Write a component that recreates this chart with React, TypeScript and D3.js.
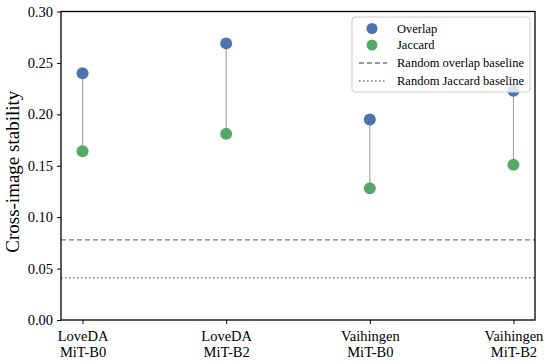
import React, { useEffect, useRef } from 'react'
import * as d3 from 'd3'

const categories = ['LoveDA\nMiT-B0', 'LoveDA\nMiT-B2', 'Vaihingen\nMiT-B0', 'Vaihingen\nMiT-B2']
const overlap = [0.240, 0.269, 0.195, 0.223]
const jaccard = [0.164, 0.181, 0.128, 0.151]
const overlapBaseline = 0.078
const jaccardBaseline = 0.041
const yTicks = [0, 0.05, 0.1, 0.15, 0.2, 0.25, 0.3]

const App = () => {
    const svgRef = useRef<SVGSVGElement>(null)

    useEffect(() => {
        const svg = d3.select(svgRef.current)
        svg.selectAll('*').remove()
        const left = 61, right = 535, top = 11.5, bottom = 320
        const font = '"Liberation Serif", "Times New Roman", serif'

        const x = d3.scalePoint().domain(categories).range([left, right]).padding(0.15)
        const y = d3.scaleLinear().domain([0, 0.3]).range([bottom, top])

        // baselines
        svg.append('line')
            .attr('x1', left).attr('x2', right)
            .attr('y1', y(overlapBaseline)).attr('y2', y(overlapBaseline))
            .attr('stroke', '#777').attr('stroke-width', 1.3).attr('stroke-dasharray', '5,3')
        svg.append('line')
            .attr('x1', left).attr('x2', right)
            .attr('y1', y(jaccardBaseline)).attr('y2', y(jaccardBaseline))
            .attr('stroke', '#777').attr('stroke-width', 1.5).attr('stroke-dasharray', '1.5,2.5')

        // connectors
        svg.selectAll('line.conn')
            .data(categories)
            .enter()
            .append('line')
            .attr('class', 'conn')
            .attr('x1', d => x(d)!).attr('x2', d => x(d)!)
            .attr('y1', (d, i) => y(overlap[i])).attr('y2', (d, i) => y(jaccard[i]))
            .attr('stroke', '#aaa').attr('stroke-width', 1.2)

        svg.selectAll('circle.ov')
            .data(overlap)
            .enter()
            .append('circle')
            .attr('cx', (d, i) => x(categories[i])!)
            .attr('cy', d => y(d))
            .attr('r', 6)
            .attr('fill', '#4C72B0')
        svg.selectAll('circle.ja')
            .data(jaccard)
            .enter()
            .append('circle')
            .attr('cx', (d, i) => x(categories[i])!)
            .attr('cy', d => y(d))
            .attr('r', 6)
            .attr('fill', '#55A868')

        // axes
        const yAxis = d3.axisLeft(y).tickValues(yTicks).tickFormat(d3.format('.2f')).tickSize(4).tickPadding(4)
        const gy = svg.append('g').attr('transform', `translate(${left},0)`).call(yAxis)
        gy.select('.domain').remove()
        gy.selectAll('text').attr('font-family', font).attr('font-size', 14.5).attr('fill', '#000')
        gy.selectAll('line').attr('stroke', '#000').attr('stroke-width', 1)

        const xAxis = d3.axisBottom(x).tickSize(4).tickFormat(() => '')
        const gx = svg.append('g').attr('transform', `translate(0,${bottom})`).call(xAxis)
        gx.select('.domain').remove()
        gx.selectAll('line').attr('stroke', '#000')
        gx.selectAll('.tick').each(function (d) {
            const lines = String(d).split('\n')
            const t = d3.select(this).append('text')
                .attr('font-family', font).attr('font-size', 14.5).attr('fill', '#000')
                .attr('text-anchor', 'middle')
            lines.forEach((l, i) => {
                t.append('tspan').attr('x', 0).attr('y', 21 + i * 16).text(l)
            })
        })

        // frame
        svg.append('rect')
            .attr('x', left).attr('y', top).attr('width', right - left).attr('height', bottom - top)
            .attr('fill', 'none').attr('stroke', '#000').attr('stroke-width', 1.3)

        svg.append('text')
            .attr('transform', `translate(19,${(top + bottom) / 2 + 6}) rotate(-90)`)
            .attr('text-anchor', 'middle')
            .attr('font-family', font).attr('font-size', 19)
            .text('Cross-image stability')

        // legend
        const lg = svg.append('g')
        lg.append('rect')
            .attr('x', 352).attr('y', 17).attr('width', 178).attr('height', 75).attr('rx', 3)
            .attr('fill', 'rgba(255,255,255,0.8)').attr('stroke', '#ccc').attr('stroke-width', 1)
        const rows = [28.5, 45, 63, 81]
        const labels = ['Overlap', 'Jaccard', 'Random overlap baseline', 'Random Jaccard baseline']
        lg.append('circle').attr('cx', 372).attr('cy', rows[0]).attr('r', 5.5).attr('fill', '#4C72B0')
        lg.append('circle').attr('cx', 372).attr('cy', rows[1]).attr('r', 5.5).attr('fill', '#55A868')
        lg.append('line').attr('x1', 359).attr('x2', 387).attr('y1', rows[2]).attr('y2', rows[2])
            .attr('stroke', '#777').attr('stroke-width', 1.3).attr('stroke-dasharray', '5,3')
        lg.append('line').attr('x1', 359).attr('x2', 387).attr('y1', rows[3]).attr('y2', rows[3])
            .attr('stroke', '#777').attr('stroke-width', 1.5).attr('stroke-dasharray', '1.5,2.5')
        labels.forEach((l, i) => {
            lg.append('text').attr('x', 397).attr('y', rows[i]).attr('dy', '0.35em')
                .attr('font-family', font).attr('font-size', 12.5).text(l)
        })
    }, [])

    return (
        <div>
            <svg ref={svgRef} width={550} height={364} style={{ position: 'absolute', left: 0, top: 0 }}></svg>
        </div>
    )
}

export default App
